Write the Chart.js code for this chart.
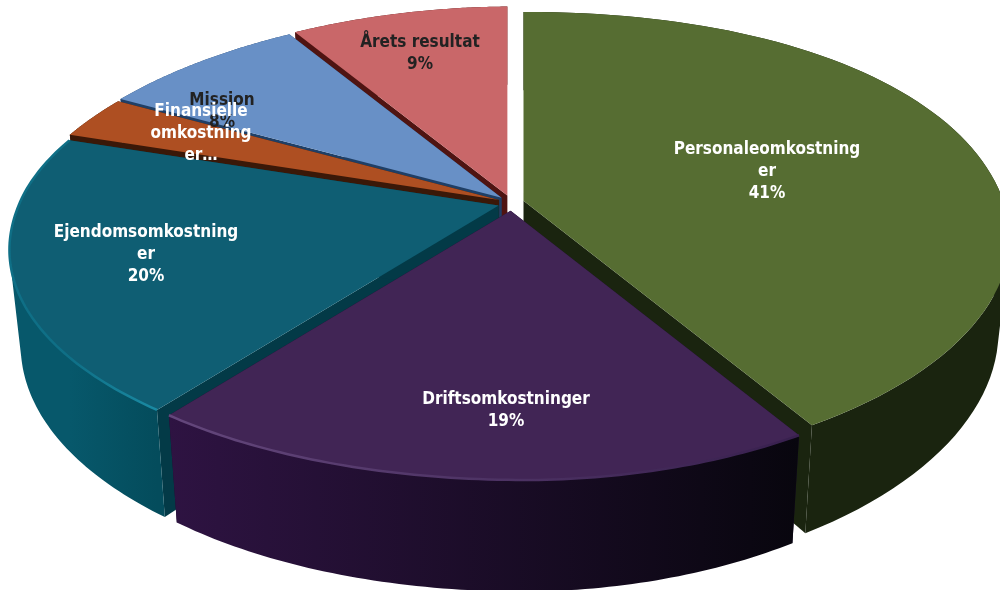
<!DOCTYPE html>
<html>
<head>
<meta charset="utf-8">
<style>
  html, body { margin: 0; padding: 0; background: #fff; }
  canvas { display: block; }
</style>
<script src="https://cdn.jsdelivr.net/npm/chart.js@4"></script>
</head>
<body>
<canvas id="pie" width="1000" height="590"></canvas>
<script>
const categories = ['Personaleomkostninger', 'Driftsomkostninger', 'Ejendomsomkostninger', 'Finansielle omkostninger', 'Mission', 'Årets resultat'];
const shares = [41, 19, 20, 3, 8, 9];
const labelLines = [
    ['Personaleomkostning', 'er', '41%'],
    ['Driftsomkostninger', '19%'],
    ['Ejendomsomkostning', 'er', '20%'],
    ['Finansielle', 'omkostning', 'er…'],
    ['Mission', '8%'],
    ['Årets resultat', '9%']
];

const topColors = ['#566d32', '#412555', '#0f5e73', '#ae4f22', '#6890c6', '#c96769'];
const cutColors = ['#1a240f', '#1a0d2b', '#033a47', '#3a1808', '#1f3f66', '#4f1412'];
const wallStops = [
    ['#1a240f', '#1a240f'],
    ['#2e1342', '#08060e'],
    ['#07586b', '#044c5c'],
    ['#3a1808', '#3a1808'],
    ['#1f3f66', '#1f3f66'],
    ['#4f1412', '#4f1412']
];
const rimStops = [
    null,
    ['#64477c', '#38204e'],
    ['#0f6f86', '#1a8aa3'],
    null,
    null,
    null
];
const labelColors = ['#fff', '#fff', '#fff', '#fff', '#222', '#222'];
const labelAnchors = [[767, 150], [506, 400], [146, 233], [201, 112], [222, 101], [420, 43]];
const lineHeight = 22;
const drawOrder = [5, 4, 3, 2, 0, 1];

// tilted disc: v runs towards the viewer, near side is bigger
const pie3d = { cx: 511, cy: 203, rx: 480, ry: 222, persp: 0.175, depth: 92, shrink: 0.977 };

function project(ox, oy, a, f, z) {
    const u = Math.sin(a) * f, v = -Math.cos(a) * f;
    const k = 1 / (1 - pie3d.persp * v);
    // image is slightly skewed, measured off the rim
    const sh = (v < 0 ? -24 : -20) * v * Math.sqrt(Math.abs(v)) * Math.sqrt(Math.abs(u));
    const roll = v > 0 ? 10 * u * v : 0;
    const dx = (u * pie3d.rx + sh) * k;
    const s = z ? pie3d.shrink : 1;
    return [ox + dx * s, oy + v * pie3d.ry * k + roll + (z ? pie3d.depth * k : 0)];
}

function fillPoly(ctx, pts, fill) {
    ctx.beginPath();
    pts.forEach((p, i) => i ? ctx.lineTo(p[0], p[1]) : ctx.moveTo(p[0], p[1]));
    ctx.closePath();
    ctx.fillStyle = fill;
    ctx.fill();
}

function xGradient(ctx, x0, x1, stops) {
    const grad = ctx.createLinearGradient(Math.min(x0, x1), 0, Math.max(x0, x1), 0);
    grad.addColorStop(0, stops[0]);
    grad.addColorStop(1, stops[1]);
    return grad;
}

function drawSlice(ctx, arc, i) {
    const a0 = arc.startAngle + Math.PI / 2, a1 = arc.endAngle + Math.PI / 2;
    const mid = (a0 + a1) / 2;
    const off = arc.options.offset;
    const ox = pie3d.cx + off * Math.sin(mid), oy = pie3d.cy - off * Math.cos(mid) * 0.6;
    const top = [], bottom = [];
    for (let n = 0; n <= 80; n++) {
        const a = a0 + (a1 - a0) * n / 80;
        top.push(project(ox, oy, a, 1, 0));
        bottom.push(project(ox, oy, a, 1, 1));
    }
    const apex = project(ox, oy, 0, 0, 0), apexLow = project(ox, oy, 0, 0, 1);

    // a cut pointing straight back can't be seen
    if (Math.cos(a0) < 0.99) fillPoly(ctx, [apex, top[0], bottom[0], apexLow], cutColors[i]);
    if (Math.cos(a1) < 0.99) fillPoly(ctx, [apex, top[80], bottom[80], apexLow], cutColors[i]);

    // outer wall: all strips in one path with the same winding, so there are no seams
    ctx.beginPath();
    for (let n = 0; n < 80; n++) {
        let quad = [top[n], top[n + 1], bottom[n + 1], bottom[n]];
        let area = 0;
        quad.forEach((p, m) => {
            const q = quad[(m + 1) % 4];
            area += p[0] * q[1] - q[0] * p[1];
        });
        if (area < 0) quad = quad.reverse();
        quad.forEach((p, m) => m ? ctx.lineTo(p[0], p[1]) : ctx.moveTo(p[0], p[1]));
        ctx.closePath();
    }
    ctx.fillStyle = xGradient(ctx, top[0][0], top[80][0], wallStops[i]);
    ctx.fill();

    fillPoly(ctx, [apex].concat(top), topColors[i]);

    if (rimStops[i]) {
        ctx.save();
        ctx.filter = 'blur(0.7px)';
        ctx.beginPath();
        top.forEach((p, n) => n ? ctx.lineTo(p[0], p[1]) : ctx.moveTo(p[0], p[1]));
        ctx.strokeStyle = xGradient(ctx, top[0][0], top[80][0], rimStops[i]);
        ctx.lineWidth = 2.5;
        ctx.stroke();
        ctx.restore();
    }
}

const pie3dPlugin = {
    id: 'pie3d',
    beforeDatasetDraw(chart, args) {
        const ctx = chart.ctx;
        const arcs = chart.getDatasetMeta(args.index).data;
        ctx.save();
        drawOrder.forEach(i => drawSlice(ctx, arcs[i], i));
        ctx.restore();
        return false;
    },
    afterDraw(chart) {
        const ctx = chart.ctx;
        ctx.save();
        ctx.font = 'bold 17px "DejaVu Sans Condensed", "DejaVu Sans"';
        ctx.textAlign = 'center';
        ctx.textBaseline = 'middle';
        [5, 4, 3, 2, 0, 1].forEach(i => {
            ctx.fillStyle = labelColors[i];
            labelLines[i].forEach((line, n) => {
                ctx.fillText(line, labelAnchors[i][0], labelAnchors[i][1] + n * lineHeight);
            });
        });
        ctx.restore();
    }
};

new Chart(document.getElementById('pie').getContext('2d'), {
    type: 'pie',
    data: {
        labels: categories,
        datasets: [{
            data: shares,
            backgroundColor: topColors,
            offset: 13,
            borderWidth: 0
        }]
    },
    options: {
        responsive: false,
        animation: false,
        rotation: 0,
        plugins: { legend: { display: false }, tooltip: { enabled: false } }
    },
    plugins: [pie3dPlugin]
});
</script>
</body>
</html>
